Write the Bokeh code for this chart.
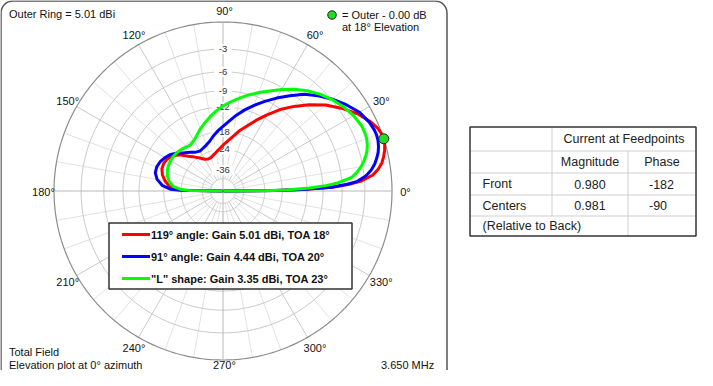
import numpy as np
from bokeh.plotting import figure
from bokeh.models import Range1d
from bokeh.embed import file_html
from bokeh.resources import INLINE
from bokeh.core.properties import value

# ---------------- data ----------------
outer_ring_dbi = 5.01
elevation_deg = [0, 0.5, 1, 2, 3, 4, 6, 8, 10, 12, 14, 16, 18, 20, 22, 25,
                 30, 35, 40, 45, 50, 55, 60, 65, 70, 75, 80, 85, 90, 95, 100, 105,
                 110, 115, 120, 125, 130, 135, 140, 145, 150, 155, 160, 165, 170, 175,
                 178, 179, 180]
# gain relative to outer ring (dB)
red_db = [-99, -20, -13, -7.5, -5.0, -3.5, -2.0, -1.3, -0.8, -0.5, -0.25, -0.08, 0.0, -0.05, -0.2, -0.6,
          -1.5, -2.7, -4.0, -5.6, -7.3, -9.1, -11.2, -13.3, -15.4, -17.2, -19.3, -21.0, -22.4, -23.8, -25.0, -26.0,
          -26.8, -26.9, -26.2, -24.6, -23.0, -21.2, -18.9, -17.4, -16.6, -16.3, -16.4, -17.0, -18.1, -19.6,
          -21.5, -25, -99]
blue_db = [-99, -20, -13, -7.6, -5.4, -4.0, -2.8, -2.1, -1.6, -1.25, -0.95, -0.75, -0.62, -0.57, -0.6, -0.75,
           -1.2, -2.0, -2.9, -3.9, -5.0, -6.4, -7.8, -9.2, -10.6, -12.0, -13.5, -15.1, -16.5, -17.7, -19.0, -20.4,
           -21.3, -21.9, -22.3, -21.8, -20.7, -19.5, -18.0, -16.7, -15.9, -15.3, -15.0, -15.1, -15.9, -17.6,
           -20.0, -24.0, -99]
green_db = [-99, -24, -17, -11.5, -8.5, -6.6, -4.6, -3.8, -3.2, -2.75, -2.35, -2.05, -1.85, -1.72, -1.67, -1.68,
            -1.95, -2.4, -2.95, -3.6, -4.4, -5.3, -6.3, -7.3, -8.2, -9.1, -10.0, -10.9, -11.8, -12.8, -13.9, -15.0,
            -16.1, -17.3, -18.3, -18.8, -18.6, -18.1, -17.8, -17.6, -17.6, -17.7, -18.0, -18.5, -19.4, -21.0,
            -24.0, -28.0, -99]
series_labels = ['119° angle: Gain 5.01 dBi, TOA 18°',
                 '91° angle: Gain 4.44 dBi, TOA 20°',
                 '"L" shape: Gain 3.35 dBi, TOA 23°']
series_colors = ["#ff0000", "#0000ff", "#00ff00"]

ring_db = [-3, -6, -9, -12, -18, -24, -36]
inner_ring_db = -45
angle_ticks = [0, 30, 60, 90, 120, 150, 180, 210, 240, 270, 300, 330]

table_header = "Current at Feedpoints"
table_cols = ["Magnitude", "Phase"]
table_rows = ["Front", "Centers"]
table_mag = ["0.980", "0.981"]
table_phase = ["-182", "-90"]
table_note = "(Relative to Back)"

# ---------------- geometry ----------------
W, H = 697, 370
CX, CY, R = 222.5, 190.5, 169.0
FONT = value("Liberation Sans")


def radius(db):
    return R * 0.89 ** (-np.asarray(db, dtype=float) / 2.0)


def to_xy(ang, db):
    a = np.radians(np.asarray(ang, dtype=float))
    r = radius(db)
    return CX + r * np.cos(a), CY - r * np.sin(a)


p = figure(width=W, height=H, x_range=Range1d(0, W), y_range=Range1d(H, 0),
           output_backend="svg", toolbar_location=None, min_border=0,
           x_axis_type=None, y_axis_type=None)
p.grid.visible = False
p.outline_line_color = None
p.background_fill_color = "white"
p.border_fill_color = "white"

# panel
p.quad(left=[0.5], right=[446.5], top=[0.5], bottom=[385.5], fill_color=None,
       line_color="#555555", line_width=1.5, border_radius=12)

# spokes
r_in = float(radius(inner_ring_db))
xs10, ys10, xs30, ys30 = [], [], [], []
for a in range(0, 360, 10):
    if a % 90 == 0:
        continue
    ar = np.radians(a)
    seg_x = [CX + r_in * np.cos(ar), CX + R * np.cos(ar)]
    seg_y = [CY - r_in * np.sin(ar), CY - R * np.sin(ar)]
    if a % 30 == 0:
        xs30.append(seg_x); ys30.append(seg_y)
    else:
        xs10.append(seg_x); ys10.append(seg_y)
p.multi_line(xs10, ys10, line_color="#e2e2e2", line_width=1)
p.multi_line(xs30, ys30, line_color="#cacaca", line_width=1)

# rings
t = np.linspace(0, 2 * np.pi, 361)
ring_x, ring_y = [], []
for db in ring_db + [inner_ring_db]:
    r = float(radius(db))
    ring_x.append(list(CX + r * np.cos(t)))
    ring_y.append(list(CY - r * np.sin(t)))
p.multi_line(ring_x, ring_y, line_color="#c8c8c8", line_width=1)
p.line(list(CX + R * np.cos(t)), list(CY - R * np.sin(t)), line_color="#8c8c8c", line_width=1.2)

# main axes
p.segment(x0=[CX - R, CX], y0=[CY, CY - R], x1=[CX + R, CX], y1=[CY, CY + R],
          line_color="#b8b8b8", line_width=1)

# ring labels with white background
lab_y = [CY - float(radius(db)) for db in ring_db]
lab_t = [str(db) for db in ring_db]
lab_w = [3.0 + 2.8 * len(s) for s in lab_t]
p.quad(left=[CX - w for w in lab_w], right=[CX + w for w in lab_w],
       top=[y - 5 for y in lab_y], bottom=[y + 5 for y in lab_y],
       fill_color="white", line_color=None)
p.text(x=[CX] * len(lab_y), y=lab_y, text=lab_t, text_font=FONT, text_font_size="9.5px",
       text_align="center", text_baseline="middle", text_color="#333333")

# angle labels
RL = 181.0
ang_x = [CX + 1.5 + RL * np.cos(np.radians(a)) for a in angle_ticks]
ang_y = [CY + 0.5 - min(RL, 173.5 if a == 270 else RL) * np.sin(np.radians(a)) for a in angle_ticks]
p.text(x=ang_x, y=ang_y, text=[f"{a}°" for a in angle_ticks], text_font=FONT,
       text_font_size="11px", text_align="center", text_baseline="middle", text_color="#111111")

# curves
for db, col in zip([red_db, blue_db, green_db], series_colors):
    x, y = to_xy(elevation_deg, db)
    p.line(list(x), list(y), line_color=col, line_width=3, line_join="round")

# peak marker
i_max = int(np.argmax(red_db))
mx, my = to_xy([elevation_deg[i_max]], [red_db[i_max]])
p.scatter(x=list(mx), y=list(my), size=10, fill_color="#22dd22", line_color="#222222", line_width=1)

# top-right marker legend
p.scatter(x=[331.5], y=[14.5], size=8.5, fill_color="#22dd22", line_color="#222222", line_width=1)
p.text(x=[341.5, 341.5], y=[14.5, 26.5],
       text=[f"= Outer - {0.0:.2f} dB", f"at {elevation_deg[i_max]}° Elevation"],
       text_font=FONT, text_font_size="11px", text_baseline="middle", text_color="#111111")

# top-left and bottom texts
p.text(x=[8.5], y=[13.5], text=[f"Outer Ring = {outer_ring_dbi:.2f} dBi"], text_font=FONT,
       text_font_size="11px", text_baseline="middle", text_color="#111111")
p.text(x=[8.5, 8.5, 380.5], y=[351, 364, 364],
       text=["Total Field", "Elevation plot at 0° azimuth", "3.650 MHz"], text_font=FONT,
       text_font_size="11px", text_baseline="middle", text_color="#111111")

# legend box
p.quad(left=[108.5], right=[351.5], top=[222.5], bottom=[288.5], fill_color="white",
       line_color="#333333", line_width=1.5)
leg_y = [234, 256, 278]
p.segment(x0=[121.5] * 3, x1=[149.5] * 3, y0=leg_y, y1=leg_y, line_color=series_colors, line_width=3)
p.text(x=[150.5] * 3, y=leg_y, text=series_labels, text_font=FONT, text_font_size="11px",
       text_font_style="bold", text_baseline="middle", text_color="#111111")

# table
TL, TC1, TC2, TR = 469.5, 551.5, 627.5, 695.5
rows_y = [126.5, 150.5, 172.5, 194.5, 215.5, 235.5]
p.segment(x0=[TL] * 4, x1=[TR] * 4, y0=rows_y[1:5], y1=rows_y[1:5], line_color="#cfcfcf", line_width=1)
p.segment(x0=[TC1, TC2], x1=[TC1, TC2], y0=[rows_y[0], rows_y[1]], y1=[rows_y[4], rows_y[5]],
          line_color="#cfcfcf", line_width=1)
p.quad(left=[TL], right=[TR], top=[rows_y[0]], bottom=[rows_y[5]], fill_color=None,
       line_color="#333333", line_width=1.5)
mid = [(rows_y[i] + rows_y[i + 1]) / 2 for i in range(5)]
TFS = "12.5px"
p.text(x=[(TC1 + TR) / 2], y=[mid[0]], text=[table_header], text_font=FONT, text_font_size=TFS,
       text_align="center", text_baseline="middle", text_color="#222222")
p.text(x=[(TC1 + TC2) / 2, (TC2 + TR) / 2], y=[mid[1]] * 2, text=table_cols, text_font=FONT,
       text_font_size=TFS, text_align="center", text_baseline="middle", text_color="#222222")
p.text(x=[482] * 3, y=[mid[2], mid[3], mid[4]], text=table_rows + [table_note], text_font=FONT,
       text_font_size=TFS, text_baseline="middle", text_color="#222222")
p.text(x=[(TC1 + TC2) / 2] * 2, y=[mid[2], mid[3]], text=table_mag, text_font=FONT,
       text_font_size=TFS, text_align="center", text_baseline="middle", text_color="#222222")
p.text(x=[(TC2 + TR) / 2 - 13] * 2, y=[mid[2], mid[3]], text=table_phase, text_font=FONT,
       text_font_size=TFS, text_baseline="middle", text_color="#222222")

open("out.html", "w").write(file_html(p, INLINE))
